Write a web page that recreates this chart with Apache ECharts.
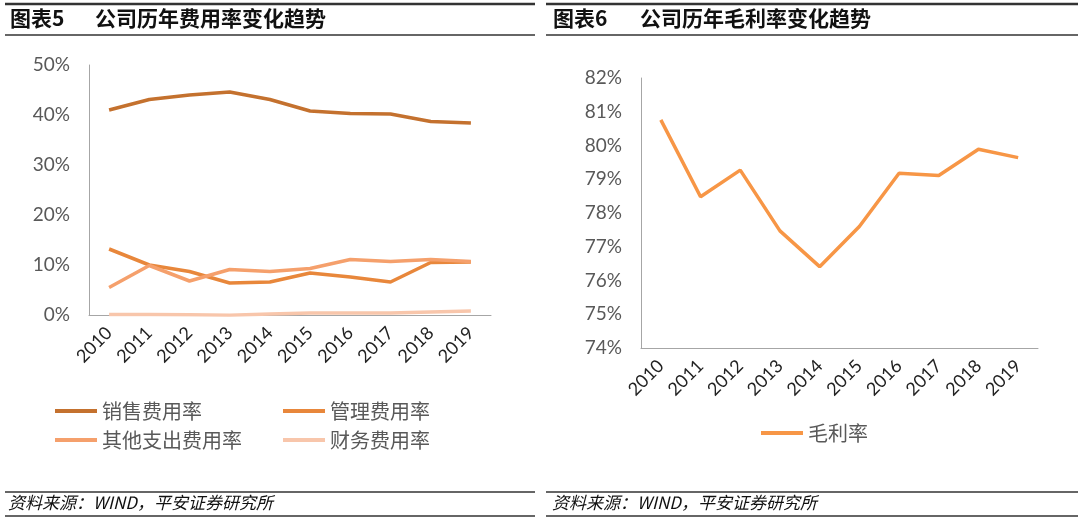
<!DOCTYPE html>
<html lang="zh-CN">
<head>
<meta charset="UTF-8">
<title>公司历年费用率与毛利率变化趋势</title>
<script src="https://cdn.jsdelivr.net/npm/echarts@6/dist/echarts.min.js"></script>
<style>
  html, body { margin: 0; padding: 0; background: #fff; }
  #main { width: 1080px; height: 521px; }
</style>
</head>
<body>
<div id="main"></div>
<script>
// 年份
var years = ['2010', '2011', '2012', '2013', '2014', '2015', '2016', '2017', '2018', '2019'];

// 图表5 费用率(%)
var xiaoshou = [41.0, 43.1, 44.0, 44.6, 43.1, 40.8, 40.3, 40.2, 38.7, 38.4];
var guanli = [13.2, 10.0, 8.7, 6.4, 6.6, 8.4, 7.6, 6.6, 10.5, 10.6];
var qita = [5.5, 9.9, 6.8, 9.1, 8.7, 9.3, 11.1, 10.7, 11.1, 10.7];
var caiwu = [0.1, 0.1, 0.05, -0.05, 0.2, 0.4, 0.4, 0.4, 0.6, 0.8];

// 图表6 毛利率(%)
var maoli = [80.76, 78.48, 79.27, 77.47, 76.41, 77.6, 79.18, 79.11, 79.89, 79.64];

var leftTicks = { min: 0, max: 50, interval: 10 };
var rightTicks = { min: 74, max: 82, interval: 1 };

var chart = echarts.init(document.getElementById('main'));

var fontCN = '"Noto Sans CJK SC", "Noto Sans", sans-serif';
var fontNum = 'Lato, "Noto Sans", sans-serif';
var gray = '#595959';

function yAxisOf(idx, t) {
    return {
        type: 'value', gridIndex: idx,
        min: t.min, max: t.max, interval: t.interval,
        axisLine: { show: true, lineStyle: { color: '#a6a6a6', width: 1 } },
        axisTick: { show: false },
        splitLine: { show: false },
        axisLabel: { formatter: '{value}%', color: gray, fontSize: 19, fontFamily: fontNum, margin: 19 }
    };
}
function xAxisOf(idx) {
    return {
        type: 'category', gridIndex: idx, data: years, boundaryGap: true,
        axisLine: { lineStyle: { color: '#a6a6a6', width: 1 } },
        axisTick: { show: false },
        axisLabel: { rotate: 45, color: '#222', fontSize: 18, fontFamily: fontNum, margin: 15, interval: 0 }
    };
}
function lineOf(name, data, color, idx) {
    return {
        name: name, type: 'line', data: data,
        xAxisIndex: idx, yAxisIndex: idx,
        showSymbol: false, symbol: 'none',
        lineStyle: { color: color, width: 3.5 },
        itemStyle: { color: color },
        animation: false
    };
}
function legendOf(name, left, top) {
    return {
        data: [name], left: left, top: top,
        icon: 'rect', itemWidth: 42, itemHeight: 4, itemGap: 4,
        textStyle: { color: gray, fontSize: 20, fontFamily: fontCN },
        selectedMode: false
    };
}
function headLine(x1, x2, y, w) {
    return { type: 'line', shape: { x1: x1, y1: y, x2: x2, y2: y }, style: { stroke: '#333', lineWidth: w } };
}

var option = {
    animation: false,
    grid: [
        { left: 89, top: 65, width: 402, height: 250 },
        { left: 641, top: 78, width: 397, height: 270 }
    ],
    xAxis: [xAxisOf(0), xAxisOf(1)],
    yAxis: [yAxisOf(0, leftTicks), yAxisOf(1, rightTicks)],
    legend: [
        legendOf('销售费用率', 50, 396),
        legendOf('管理费用率', 278, 396),
        legendOf('其他支出费用率', 50, 425),
        legendOf('财务费用率', 278, 425),
        legendOf('毛利率', 756, 418)
    ],
    series: [
        lineOf('销售费用率', xiaoshou, '#c4712e', 0),
        lineOf('管理费用率', guanli, '#e8873b', 0),
        lineOf('其他支出费用率', qita, '#f5a06c', 0),
        lineOf('财务费用率', caiwu, '#f8c6ab', 0),
        lineOf('毛利率', maoli, '#f79646', 1)
    ],
    graphic: [
        headLine(5, 535, 4, 2.5),
        headLine(5, 535, 35, 1.5),
        headLine(546, 1078, 4, 2.5),
        headLine(546, 1078, 35, 1.5),
        headLine(5, 535, 492, 1.5),
        headLine(5, 535, 516, 1.5),
        headLine(546, 1078, 492, 1.5),
        headLine(546, 1078, 516, 1.5),
        { type: 'text', left: 10, top: 8, style: { text: '图表5', fill: '#111', font: 'bold 21px ' + fontCN } },
        { type: 'text', left: 95, top: 8, style: { text: '公司历年费用率变化趋势', fill: '#111', font: 'bold 21px ' + fontCN } },
        { type: 'text', left: 553, top: 8, style: { text: '图表6', fill: '#111', font: 'bold 21px ' + fontCN } },
        { type: 'text', left: 640, top: 8, style: { text: '公司历年毛利率变化趋势', fill: '#111', font: 'bold 21px ' + fontCN } },
        { type: 'text', left: 8, top: 494, style: { text: '资料来源：WIND，平安证券研究所', fill: '#111', font: 'italic 17px ' + fontCN } },
        { type: 'text', left: 552, top: 494, style: { text: '资料来源：WIND，平安证券研究所', fill: '#111', font: 'italic 17px ' + fontCN } }
    ]
};

chart.setOption(option);
</script>
</body>
</html>
